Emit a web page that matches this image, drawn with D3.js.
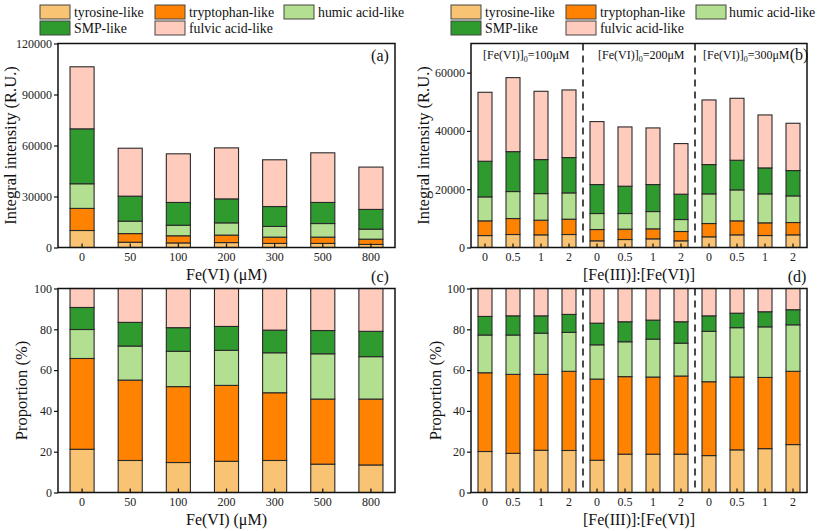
<!DOCTYPE html>
<html><head><meta charset="utf-8">
<script src="https://cdn.jsdelivr.net/npm/d3@7"></script>
<style>
body{margin:0;background:#fff;}
svg{display:block;}
svg text{font-family:"Liberation Serif","Times New Roman",serif;}
</style></head>
<body><svg id="c" width="817" height="531"></svg>
<script>
// ---------- DATA ----------
const seriesNames = ["tyrosine-like","tryptophan-like","humic acid-like","SMP-like","fulvic acid-like"];
const seriesColors = ["#F8C372","#FF8200","#B2E090","#2F9B2F","#FFCBBC"];

const catsA = ["0","50","100","200","300","500","800"];
const aTyrosine   = [10000,3100,2700,2900,2400,2400,1800];
const aTryptophan = [13000,5100,4200,4400,3700,3700,3100];
const aHumic      = [14500,7300,6200,7200,6300,8000,5900];
const aSMP        = [32300,14700,13400,14100,11700,12400,11600];
const aFulvic     = [36500,28200,28600,30000,27500,29200,24900];

const catsB = ["0","0.5","1","2","0","0.5","1","2","0","0.5","1","2"];
const bTyrosine   = [4100,4460,4340,4460,2290,2740,2970,2290,3660,4340,4110,4340];
const bTryptophan = [5040,5480,5030,5250,3880,3550,3430,3200,4570,4800,4350,4230];
const bHumic      = [8230,9260,9130,9030,5490,5370,5940,4110,10170,10630,9940,9140];
const bSMP        = [12230,13700,11670,12120,9940,9370,9260,8690,10060,10170,8910,8690];
const bFulvic     = [23660,25390,23430,23200,21600,20340,19430,17370,22170,21260,18180,16230];

const cTyrosine   = [21.2,15.7,14.7,15.3,15.7,13.9,13.5];
const cTryptophan = [44.5,39.4,37.2,37.2,33.2,31.9,32.3];
const cHumic      = [14.2,16.7,17.3,17.2,19.6,22.2,20.8];
const cSMP        = [10.8,11.6,11.6,11.7,11.1,11.4,12.4];
const cFulvic     = [9.3,16.6,19.2,18.6,20.4,20.6,21.0];

const dTyrosine   = [20.1,19.2,20.7,20.6,15.8,18.8,18.8,18.8,18.1,20.9,21.5,23.5];
const dTryptophan = [38.6,38.7,37.2,38.8,39.8,38.0,37.8,38.3,36.2,35.7,34.9,35.9];
const dHumic      = [18.5,19.3,20.2,19.1,16.8,17.1,18.6,16.1,24.7,24.2,24.8,22.8];
const dSMP        = [9.1,9.4,8.5,8.8,10.6,9.8,9.3,10.5,7.6,7.1,7.4,7.4];
const dFulvic     = [13.7,13.4,13.4,12.7,17.0,16.3,15.5,16.3,13.4,12.1,11.4,10.4];

const ticksA = [0,30000,60000,90000,120000];
const ticksB = [0,20000,40000,60000];
const ticksPct = [0,20,40,60,80,100];
const groupLabels = ["100","200","300"];

// ---------- DRAW ----------
const svg = d3.select("#c");
const SERIF = "Liberation Serif, Times New Roman, serif";

function table(cats, arrs){
  return cats.map((c,i)=>{
    const o={idx:i,cat:c};
    seriesNames.forEach((s,k)=>o[s]=arrs[k][i]);
    return o;
  });
}

function panel(opt){
  const {x0,x1,y0,y1,cats,arrs,ymax,ticks,label,labelX,labelY,ytitle,ytitleX,xtitle,dashed} = opt;
  const g = svg.append("g");
  const data = table(cats, arrs);
  const x = d3.scaleBand().domain(d3.range(cats.length)).range([x0,x1]).paddingInner(0.5).paddingOuter(0.25);
  const y = d3.scaleLinear().domain([0,ymax]).range([y1,y0]);
  const stack = d3.stack().keys(seriesNames)(data);
  stack.forEach((layer,k)=>{
    g.selectAll(null).data(layer).enter().append("rect")
      .attr("x",d=>x(d.data.idx)).attr("width",x.bandwidth())
      .attr("y",d=>y(d[1])).attr("height",d=>y(d[0])-y(d[1]))
      .attr("fill",seriesColors[k]).attr("stroke","#2a2a2a").attr("stroke-width",1.1);
  });
  if(dashed){
    const step = x.step();
    [4,8].forEach(i=>{
      const xx = x(i) - (step - x.bandwidth())/2;
      g.append("line").attr("x1",xx).attr("x2",xx).attr("y1",y0).attr("y2",y1)
        .attr("stroke","#111").attr("stroke-width",1.5).attr("stroke-dasharray","7,5");
    });
  }
  // axes
  const ya = g.append("g").attr("transform",`translate(${x0},0)`)
    .call(d3.axisLeft(y).tickValues(ticks).tickSize(4).tickSizeOuter(0).tickPadding(2).tickFormat(d3.format("d")));
  ya.attr("font-family",SERIF).attr("font-size",12);
  ya.select(".domain").remove();
  ya.selectAll("text").attr("fill","#222");
  ya.selectAll("line").attr("stroke","#111").attr("stroke-width",1.2);
  const xa = g.append("g").attr("transform",`translate(0,${y1})`)
    .call(d3.axisBottom(x).tickSize(-4).tickSizeOuter(0).tickPadding(5).tickFormat(i=>cats[i]));
  xa.attr("font-family",SERIF).attr("font-size",12);
  xa.select(".domain").remove();
  xa.selectAll("text").attr("fill","#222");
  xa.selectAll("line").attr("stroke","#111").attr("stroke-width",1.2);
  // frame
  g.append("rect").attr("x",x0).attr("y",y0).attr("width",x1-x0).attr("height",y1-y0)
    .attr("fill","none").attr("stroke","#111").attr("stroke-width",1.5);
  // labels
  g.append("text").attr("x",labelX).attr("y",labelY).attr("text-anchor","middle")
    .attr("font-size",16).attr("fill","#111").text(label);
  g.append("text").attr("transform",`translate(${ytitleX},${(y0+y1)/2}) rotate(-90)`)
    .attr("text-anchor","middle").attr("font-size",16.5).attr("fill","#111").text(ytitle);
  g.append("text").attr("x",(x0+x1)/2).attr("y",y1+32).attr("text-anchor","middle")
    .attr("font-size",16).attr("fill","#111").text(xtitle);
  return {x,y,g};
}

panel({x0:58,x1:395,y0:43.5,y1:247.5,cats:catsA,arrs:[aTyrosine,aTryptophan,aHumic,aSMP,aFulvic],
  ymax:120000,ticks:ticksA,label:"(a)",labelX:380,labelY:61,ytitle:"Integral intensity (R.U.)",ytitleX:16,xtitle:"Fe(VI) (\u03bcM)"});
panel({x0:471,x1:807,y0:43.5,y1:247.5,cats:catsB,arrs:[bTyrosine,bTryptophan,bHumic,bSMP,bFulvic],
  ymax:70000,ticks:ticksB,label:"(b)",labelX:799,labelY:60,ytitle:"Integral intensity (R.U.)",ytitleX:429,xtitle:"[Fe(III)]:[Fe(VI)]",dashed:true});
panel({x0:58,x1:395,y0:288.5,y1:492.5,cats:catsA,arrs:[cTyrosine,cTryptophan,cHumic,cSMP,cFulvic],
  ymax:100,ticks:ticksPct,label:"(c)",labelX:380,labelY:282,ytitle:"Proportion (%)",ytitleX:27,xtitle:"Fe(VI) (\u03bcM)"});
panel({x0:471,x1:807,y0:288.5,y1:492.5,cats:catsB,arrs:[dTyrosine,dTryptophan,dHumic,dSMP,dFulvic],
  ymax:100,ticks:ticksPct,label:"(d)",labelX:797,labelY:282,ytitle:"Proportion (%)",ytitleX:441,xtitle:"[Fe(III)]:[Fe(VI)]",dashed:true});

// group annotations in (b)
const annX = [483,598,703];
groupLabels.forEach((v,i)=>{
  const t = svg.append("text").attr("x",annX[i]).attr("y",59).attr("font-size",12).attr("fill","#111");
  t.append("tspan").text("[Fe(VI)]");
  t.append("tspan").attr("font-size",8).attr("dy",3).text("0");
  t.append("tspan").attr("dy",-3).text("="+v+"\u03bcM");
});

// legends
function legend(sx, lx){
  const pos = [[0,0],[1,0],[2,0],[0,1],[1,1]];
  seriesNames.forEach((s,k)=>{
    const [c,r] = pos[k];
    const yy = 5 + r*16;
    svg.append("rect").attr("x",sx[c]).attr("y",yy).attr("width",30).attr("height",14)
      .attr("fill",seriesColors[k]).attr("stroke","#444").attr("stroke-width",1);
    svg.append("text").attr("x",lx[c]).attr("y",yy+11.5).attr("font-size",13.8).attr("fill","#111").text(s);
  });
}
legend([40,155,284],[74,189,318]);
legend([451,566,696],[485,600,729]);
</script></body></html>
